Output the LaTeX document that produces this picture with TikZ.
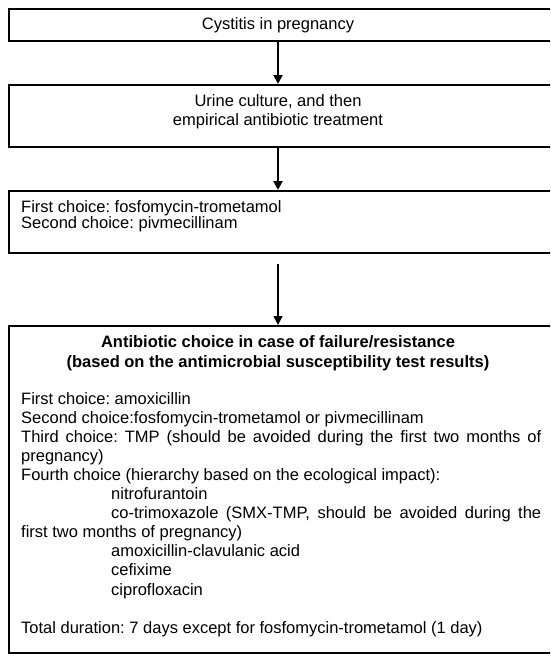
\documentclass[tikz,border=0pt]{standalone}
\usepackage{fontspec}
\setmainfont{Liberation Sans}
\usetikzlibrary{arrows.meta}
\frenchspacing
\tikzset{
  box/.style={draw=black, line width=2pt, rectangle, inner sep=0pt, anchor=north west, minimum width=560pt},
  txt/.style={inner sep=0pt, font=\fontsize{16.5}{19}\selectfont},
  ttl/.style={txt, font=\fontsize{16.5}{19}\selectfont\bfseries},
  arr/.style={draw=black, line width=2pt, -{Triangle[length=9pt,width=9pt]}},
  thinarr/.style={draw=black, line width=1.3pt, -{Triangle[length=9pt,width=9pt]}}
}
\begin{document}
\begin{tikzpicture}[x=1pt,y=-1pt]
\useasboundingbox (0,0) rectangle (550,657);
\fill[white] (0,0) rectangle (550,657);
\clip (0,0) rectangle (550,657);
\coordinate (axis) at (278,0);

% boxes
\node[box, minimum height=32pt] (b1) at (8,8) {};
\node[box, minimum height=62pt] (b2) at (8,84) {};
\node[box, minimum height=62pt] (b3) at (8,190) {};
\node[box, minimum height=327pt] (b4) at (8,325) {};

% texts
\node[txt, anchor=base] (t1) at (278,29.5) {Cystitis in pregnancy};
\node[txt, anchor=base] (t2a) at (278,106) {Urine culture, and then};
\node[txt, anchor=base] (t2b) at (278,125.5) {empirical antibiotic treatment};
\node[txt, anchor=base west] (t3a) at (21,212) {First choice: fosfomycin-trometamol};
\node[txt, anchor=base west] (t3b) at (21,228) {Second choice: pivmecillinam};
\node[ttl, anchor=base] (t4a) at (278,347) {Antibiotic choice in case of failure/resistance};
\node[ttl, anchor=base] (t4b) at (278,367) {(based on the antimicrobial susceptibility test results)};
\node[txt, anchor=base west] (body) at (21,404) {\vtop{\baselineskip=19.1pt \parindent=0pt
\hbox{First choice: amoxicillin}
\hbox{Second choice:fosfomycin-trometamol or pivmecillinam}
\hbox to 520pt{Third choice: TMP (should be avoided during the first two months of}
\hbox{pregnancy)}
\hbox{Fourth choice (hierarchy based on the ecological impact):}
\hbox{\hspace*{90pt}nitrofurantoin}
\hbox to 520pt{\hspace*{90pt}co-trimoxazole (SMX-TMP, should be avoided during the}
\hbox{first two months of pregnancy)}
\hbox{\hspace*{90pt}amoxicillin-clavulanic acid}
\hbox{\hspace*{90pt}cefixime}
\hbox{\hspace*{90pt}ciprofloxacin}
\vskip 19.1pt
\hbox{Total duration: 7 days except for fosfomycin-trometamol (1 day)}
}};

% arrows
\draw[arr] (b1.south -| axis) -- (b2.north -| axis);
\draw[arr] (b2.south -| axis) -- (b3.north -| axis);
\draw[thinarr] ([yshift=-10pt]b3.south -| axis) -- (b4.north -| axis);
\end{tikzpicture}
\end{document}
